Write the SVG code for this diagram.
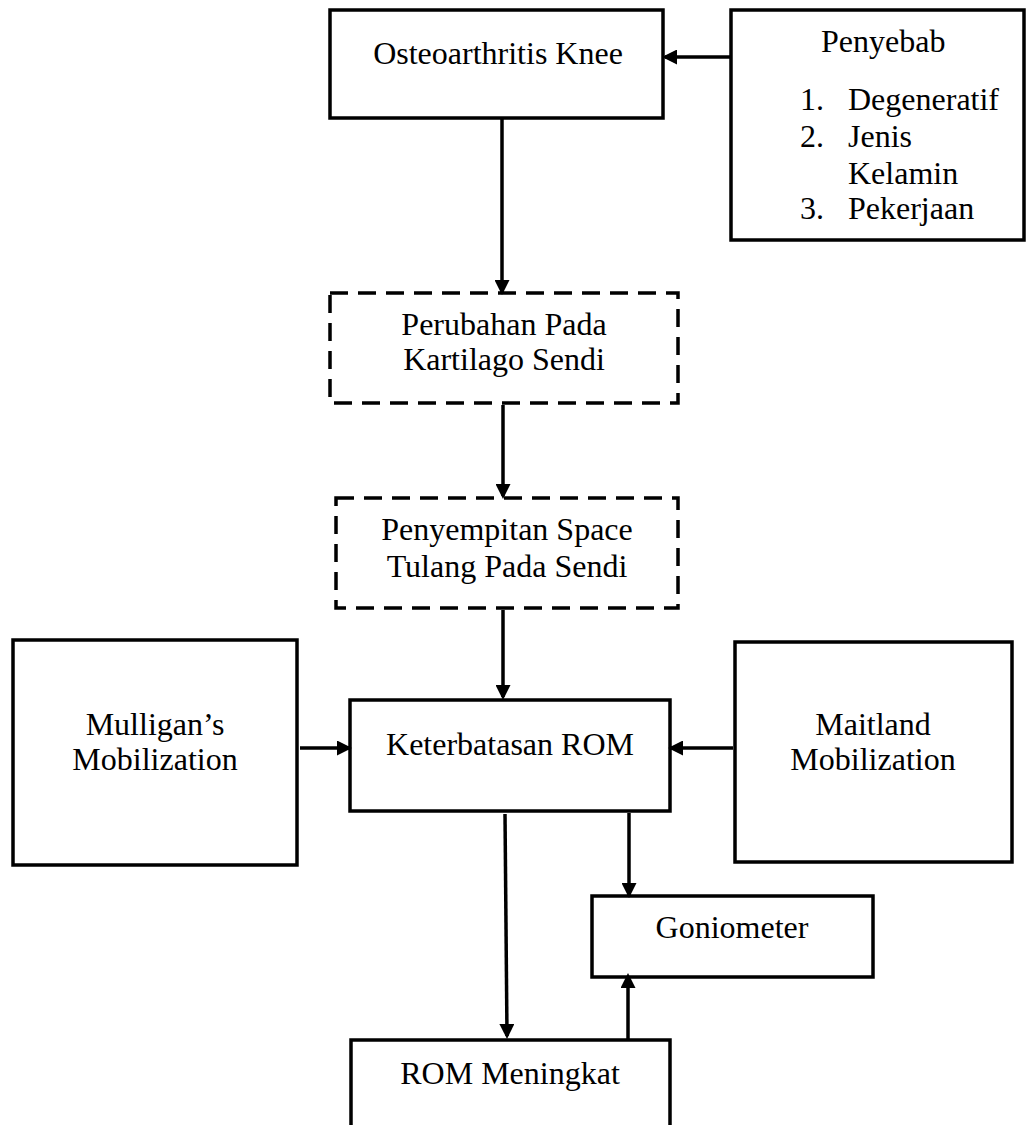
<svg xmlns="http://www.w3.org/2000/svg" width="1027" height="1125" viewBox="0 0 1027 1125">
<style>
.box{fill:#fff;stroke:#000;stroke-width:3.5}
.dash{fill:#fff;stroke:#000;stroke-width:3.5;stroke-dasharray:18 10}
.t{font-family:"Liberation Serif","Times New Roman",serif;font-size:32px;fill:#000}
.c{text-anchor:middle}
.conn{stroke:#000;stroke-width:3.5;fill:none;marker-end:url(#ah)}
</style>
<defs>
<marker id="ah" markerUnits="userSpaceOnUse" markerWidth="15" markerHeight="15" refX="12" refY="7.5" orient="auto">
<path d="M0,0 L15,7.5 L0,15 z" fill="#000"/>
</marker>
</defs>
<rect width="1027" height="1125" fill="#fff"/>
<g id="osteo">
<rect class="box" x="330" y="10" width="333" height="108"/>
<text class="t c" x="498" y="64">Osteoarthritis Knee</text>
</g>
<g id="penyebab">
<rect class="box" x="731" y="10" width="293" height="230"/>
<text class="t" x="821" y="52">Penyebab</text>
<text class="t" x="800" y="110">1.</text>
<text class="t" x="848" y="110">Degeneratif</text>
<text class="t" x="800" y="147">2.</text>
<text class="t" x="848" y="147">Jenis</text>
<text class="t" x="848" y="184">Kelamin</text>
<text class="t" x="800" y="219">3.</text>
<text class="t" x="848" y="219">Pekerjaan</text>
</g>
<g id="perubahan">
<rect class="dash" x="330" y="293" width="348" height="110"/>
<text class="t c" x="504" y="335">Perubahan Pada</text>
<text class="t c" x="504" y="370">Kartilago Sendi</text>
</g>
<g id="penyempitan">
<rect class="dash" x="336" y="498" width="342" height="110"/>
<text class="t c" x="507" y="540">Penyempitan Space</text>
<text class="t c" x="507" y="577">Tulang Pada Sendi</text>
</g>
<g id="mulligan">
<rect class="box" x="13" y="640" width="284" height="225"/>
<text class="t c" x="155" y="735">Mulligan’s</text>
<text class="t c" x="155" y="770">Mobilization</text>
</g>
<g id="keterbatasan">
<rect class="box" x="350" y="700" width="320" height="111"/>
<text class="t c" x="510" y="755">Keterbatasan ROM</text>
</g>
<g id="maitland">
<rect class="box" x="735" y="642" width="277" height="220"/>
<text class="t c" x="873" y="735">Maitland</text>
<text class="t c" x="873" y="770">Mobilization</text>
</g>
<g id="goniometer">
<rect class="box" x="592" y="896" width="281" height="81"/>
<text class="t c" x="732" y="938">Goniometer</text>
</g>
<g id="rom-meningkat">
<path class="box" d="M351,1130 V1040 H670 V1130"/>
<text class="t c" x="510" y="1084">ROM Meningkat</text>
</g>
<g id="connectors">
<line class="conn" x1="731" y1="57" x2="665" y2="57"/>
<line class="conn" x1="502" y1="118" x2="502" y2="292"/>
<line class="conn" x1="503" y1="405" x2="503" y2="496"/>
<line class="conn" x1="503" y1="610" x2="503" y2="697"/>
<line class="conn" x1="300" y1="748" x2="349" y2="748"/>
<line class="conn" x1="733" y1="748" x2="671" y2="748"/>
<line class="conn" x1="505" y1="814" x2="507" y2="1036"/>
<line class="conn" x1="629" y1="813" x2="629" y2="895"/>
<line class="conn" x1="628" y1="1041" x2="628" y2="976"/>
</g>
</svg>
